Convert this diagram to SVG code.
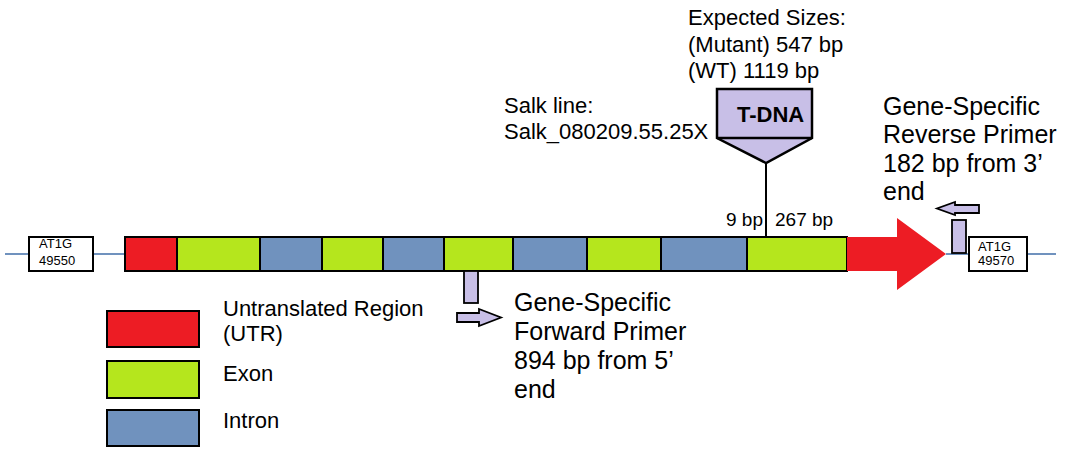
<svg xmlns="http://www.w3.org/2000/svg" width="1068" height="449" viewBox="0 0 1068 449">
<style>
text{font-family:"Liberation Sans",Arial,sans-serif;fill:#000}
.seg{stroke:#000;stroke-width:2}
.utr{fill:#ED1C24}.exon{fill:#B5E61D}.intron{fill:#7092BE}
.prim{fill:#C8BFE7;stroke:#000;stroke-width:1.8}
.lab{font-size:25px}
.mid{font-size:22px}
.small{font-size:13px}
</style>
<rect width="1068" height="449" fill="#fff"/>
<g id="connectors">
<line x1="5" y1="254" x2="125" y2="254" stroke="#7092BE" stroke-width="2"/>
<line x1="946" y1="254" x2="1056" y2="254" stroke="#7092BE" stroke-width="2"/>
<line x1="766" y1="163" x2="766" y2="237" stroke="#000" stroke-width="2"/>
</g>
<g id="gene">
<rect class="seg utr" x="125" y="237" width="52" height="34"/>
<rect class="seg exon" x="177" y="237" width="83" height="34"/>
<rect class="seg intron" x="260" y="237" width="62" height="34"/>
<rect class="seg exon" x="322" y="237" width="61" height="34"/>
<rect class="seg intron" x="383" y="237" width="61" height="34"/>
<rect class="seg exon" x="444" y="237" width="69" height="34"/>
<rect class="seg intron" x="513" y="237" width="74" height="34"/>
<rect class="seg exon" x="587" y="237" width="74" height="34"/>
<rect class="seg intron" x="661" y="237" width="86" height="34"/>
<rect class="seg exon" x="747" y="237" width="100" height="34"/>
<polygon class="utr" points="847,237 897,237 897,218 946,254 897,290 897,271 847,271"/>
</g>
<g id="left-gene">
<rect x="29" y="237" width="64" height="34" fill="#fff" stroke="#000" stroke-width="2"/>
<text class="small" x="39" y="248">AT1G</text>
<text class="small" x="39" y="265">49550</text>
</g>
<g id="right-gene">
<rect x="969" y="237" width="58" height="34" fill="#fff" stroke="#000" stroke-width="2"/>
<text class="small" x="978" y="251">AT1G</text>
<text class="small" x="978" y="265">49570</text>
</g>
<g id="tdna">
<polygon points="717,89 812,89 812,138 766,163 717,138" fill="#C8BFE7" stroke="#000" stroke-width="2.5" stroke-linejoin="miter"/>
<line x1="717" y1="138" x2="812" y2="138" stroke="#000" stroke-width="2.5"/>
<text x="737" y="122" font-size="22" font-weight="bold">T-DNA</text>
</g>
<g id="expected">
<text class="mid" x="688" y="25">Expected Sizes:</text>
<text class="mid" x="688" y="52">(Mutant) 547 bp</text>
<text class="mid" x="688" y="78">(WT) 1119 bp</text>
</g>
<g id="salk">
<text class="mid" x="504" y="113">Salk line:</text>
<text class="mid" x="504" y="139">Salk_080209.55.25X</text>
</g>
<g id="bp-labels">
<text x="763" y="226" font-size="19" text-anchor="end">9 bp</text>
<text x="775" y="226" font-size="19">267 bp</text>
</g>
<g id="forward-primer">
<rect class="prim" x="464" y="271" width="14" height="32"/>
<polygon class="prim" points="457,313 479,313 479,309 501,317.5 479,326 479,322 457,322"/>
<text class="lab" x="514" y="311">Gene-Specific</text>
<text class="lab" x="514" y="340">Forward Primer</text>
<text class="lab" x="514" y="369">894 bp from 5’</text>
<text class="lab" x="514" y="398">end</text>
</g>
<g id="reverse-primer">
<rect class="prim" x="952" y="220" width="14" height="33"/>
<polygon class="prim" points="979,205 955,205 955,202 937,208.5 955,215 955,213 979,213"/>
<text class="lab" x="883" y="115">Gene-Specific</text>
<text class="lab" x="883" y="143">Reverse Primer</text>
<text class="lab" x="883" y="172">182 bp from 3’</text>
<text class="lab" x="883" y="200">end</text>
</g>
<g id="legend">
<rect class="seg utr" x="107" y="311" width="92" height="36" stroke-width="2.5"/>
<rect class="seg exon" x="107" y="361" width="92" height="37" stroke-width="2.5"/>
<rect class="seg intron" x="107" y="410" width="92" height="36" stroke-width="2.5"/>
<text class="mid" x="223" y="316">Untranslated Region</text>
<text class="mid" x="223" y="341">(UTR)</text>
<text class="mid" x="223" y="381">Exon</text>
<text class="mid" x="223" y="428">Intron</text>
</g>
</svg>
